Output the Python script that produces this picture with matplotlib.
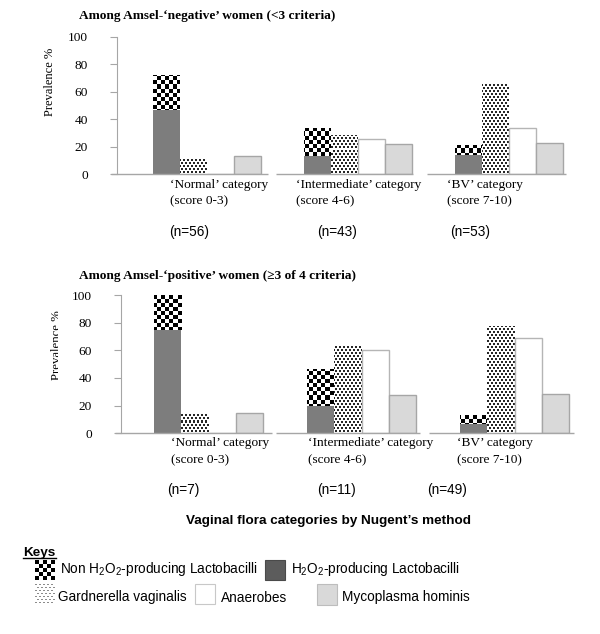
import numpy as np
import matplotlib
matplotlib.use('Agg')
import matplotlib.pyplot as plt
from matplotlib.patches import Rectangle
from matplotlib.transforms import Bbox, TransformedBbox

plt.rcParams['mathtext.default'] = 'regular'
SERIF = 'Liberation Serif'
SANS = 'Liberation Sans'

# ---------------- data ----------------
cat_line1 = ["\u2018Normal\u2019 category", "\u2018Intermediate\u2019 category", "\u2018BV\u2019 category"]
cat_line2 = ["(score 0-3)", "(score 4-6)", "(score 7-10)"]
series_names = ["Non H$_2$O$_2$-producing Lactobacilli", "H$_2$O$_2$-producing Lactobacilli",
                "Gardnerella vaginalis", "Anaerobes", "Mycoplasma hominis"]
yticks = [0, 20, 40, 60, 80, 100]

# Amsel-negative women (<3 criteria)
neg_h2o2 = [47, 13, 14.3]
neg_non_h2o2 = [25, 20.6, 6.8]
neg_gardnerella = [11.4, 28.4, 66.4]
neg_anaerobes = [0, 25.5, 33.7]
neg_mycoplasma = [13.6, 22.1, 23.0]
neg_n = [56, 43, 53]

# Amsel-positive women (>=3 of 4 criteria)
pos_h2o2 = [75, 20, 6.7]
pos_non_h2o2 = [25, 26.5, 6.3]
pos_gardnerella = [14.5, 63.6, 77.3]
pos_anaerobes = [0, 60, 69.2]
pos_mycoplasma = [14.5, 27.5, 28.4]
pos_n = [7, 11, 49]

titles = ["Among Amsel-\u2018negative\u2019 women (<3 criteria)",
          "Among Amsel-\u2018positive\u2019 women (\u22653 of 4 criteria)"]

# ---------------- figure ----------------
W, H = 600, 634
fig = plt.figure(figsize=(W / 100, H / 100), dpi=100)
fig.patch.set_facecolor('white')

C_H2O2 = '#7d7d7d'
C_MYCO = '#d9d9d9'
C_EDGE = '#a6a6a6'
C_AX = '#a6a6a6'


def checker_tex(h, w, cell=4):
    ii, jj = np.indices((h, w))
    return ((ii // cell + jj // cell) % 2).astype(float)


def stipple_tex(h, w, light=False):
    ii, jj = np.indices((h, w))
    arr = np.ones((h, w))
    if light:
        dots = ((ii % 3) < 1) & (((jj + 2 * ((ii // 3) % 2)) % 4) < 2)
        arr[dots] = 0.55
    else:
        dots = ((ii % 3) < 2) & (((jj + 2 * ((ii // 3) % 2)) % 4) < 2)
        arr[dots] = 0.15
    return arr


def add_texture(ax, patches, tex, extent):
    for p in patches:
        im = ax.imshow(tex, extent=extent, cmap='gray', vmin=0, vmax=1,
                       interpolation='nearest', aspect='auto', zorder=1.5)
        im.set_clip_path(p)


def panel(rect_px, xlim, h2o2, non, gard, anaer, myco, seg_px, bar_w_px, px_per_cat):
    l, t, r, b = rect_px
    ax = fig.add_axes([l / W, 1 - b / H, (r - l) / W, (b - t) / H])
    ax.set_xlim(xlim)
    ax.set_ylim(0, 100)
    x = np.arange(len(h2o2))
    w = bar_w_px / px_per_cat
    ax.bar(x, h2o2, w, align='edge', color=C_H2O2, edgecolor='none', zorder=1)
    nb = ax.bar(x, non, w, bottom=h2o2, align='edge', color='white', edgecolor='none', zorder=1)
    gb = ax.bar(x + w, gard, w, align='edge', color='white', edgecolor='none', zorder=1)
    ax.bar(x + 2 * w, anaer, w, align='edge', color='white', edgecolor='#b5b5b5', linewidth=1.0, zorder=2)
    ax.bar(x + 3 * w, myco, w, align='edge', color=C_MYCO, edgecolor=C_EDGE, linewidth=1.0, zorder=2)
    hp, wp = int(round(b - t)), int(round(r - l))
    ext = (xlim[0], xlim[1], 0, 100)
    add_texture(ax, nb, checker_tex(hp, wp), ext)
    add_texture(ax, gb, stipple_tex(hp, wp), ext)
    ax.set_xlim(xlim)
    ax.set_ylim(0, 100)
    for a_px, b_px in seg_px:
        xa = xlim[0] + (a_px - l) / px_per_cat
        xb = xlim[0] + (b_px - l) / px_per_cat
        ax.plot([xa, xb], [0, 0], color=C_AX, lw=1.0, clip_on=False, zorder=3,
                solid_capstyle='butt')
    for s in ['top', 'right', 'bottom']:
        ax.spines[s].set_visible(False)
    ax.spines['left'].set_color(C_AX)
    ax.set_xticks([])
    ax.set_yticks(yticks)
    ax.tick_params(axis='y', length=5, color=C_AX, pad=16, labelsize=9.6,
                   labelfontfamily=SERIF)
    ax.patch.set_alpha(0)
    return ax


# top panel: axis px 117..566, y 36.8..174.3 ; first group starts at 153 px, 151 px per category
ax1 = panel((117, 36.8, 566, 174.3), ((117 - 153) / 151, (566 - 153) / 151),
            neg_h2o2, neg_non_h2o2, neg_gardnerella, neg_anaerobes, neg_mycoplasma,
            [(111, 268), (276, 413), (427, 566)], 27, 151)
ax2 = panel((121, 295, 574, 433.3), ((121 - 154) / 153, (574 - 154) / 153),
            pos_h2o2, pos_non_h2o2, pos_gardnerella, pos_anaerobes, pos_mycoplasma,
            [(115, 272), (276, 420), (429, 574)], 27.3, 153)

# overlay for text in pixel coordinates
ov = fig.add_axes([0, 0, 1, 1], zorder=5)
ov.set_xlim(0, W)
ov.set_ylim(H, 0)
ov.axis('off')

# titles
ov.text(79, 18.5, titles[0], family=SERIF, weight='bold', fontsize=9.6, va='baseline', ha='left')
ov.text(79, 279.5, titles[1], family=SERIF, weight='bold', fontsize=9.6, va='baseline', ha='left')

# y labels
ov.text(53, 82, 'Prevalence %', family=SERIF, fontsize=9, rotation=90,
        rotation_mode='anchor', ha='center', va='baseline')
tl = ov.text(60.5, 345, 'Prevalence %', family=SERIF, fontsize=9.2, rotation=90,
             rotation_mode='anchor', ha='center', va='baseline')
tl.set_clip_on(True)
tl.set_clip_path(None)
tl.set_clip_box(TransformedBbox(Bbox.from_extents(0, 0, 58.3 / W, 1), fig.transFigure))

# category labels
for xs, y1, y2, ns_x, ny, ns in [
        ([169.5, 295.8, 447], 185.3, 201.7, [169.5, 317.6, 449.7], 231.7, neg_n),
        ([171.4, 308.5, 457.3], 443.3, 460, [167.6, 317.6, 426.7], 490, pos_n)]:
    for i in range(3):
        ov.text(xs[i], y1, cat_line1[i], family=SERIF, fontsize=9.6, va='center', ha='left')
        ov.text(xs[i], y2, cat_line2[i], family=SERIF, fontsize=9.6, va='center', ha='left')
        ov.text(ns_x[i], ny, f"(n={ns[i]})", family=SANS, fontsize=9.8, va='center', ha='left')

# x-axis title
ov.text(328, 520.7, "Vaginal flora categories by Nugent\u2019s method", family=SANS,
        weight='bold', fontsize=9.7, ha='center', va='center')

# keys
ov.text(23.3, 556, 'Keys', family=SANS, weight='bold', fontsize=9.7, ha='left', va='baseline')
ov.plot([23.3, 55.7], [558.3, 558.3], color='black', lw=1.0)

bs = 20
ov.imshow(checker_tex(5, 5, 1), extent=(35, 55, 580, 560), cmap='gray', vmin=0, vmax=1,
          interpolation='nearest', aspect='auto', zorder=2)
ov.add_patch(Rectangle((265, 560), bs, bs, facecolor='#5c5c5c', edgecolor='#4a4a4a', lw=0.8))
ov.imshow(stipple_tex(20, 20, light=True), extent=(35, 55, 604, 584), cmap='gray', vmin=0, vmax=1,
          interpolation='nearest', aspect='auto', zorder=2)
ov.add_patch(Rectangle((195, 584), bs, bs, facecolor='white', edgecolor='#c8c8c8', lw=0.8))
ov.add_patch(Rectangle((316.5, 584), bs + 0.5, bs + 0.5, facecolor=C_MYCO, edgecolor='#bdbdbd', lw=0.8))
ov.set_xlim(0, W)
ov.set_ylim(H, 0)

key_text = [(60, 573.3), (291, 573.3), (58, 601.5), (221, 601.5), (342.5, 601.5)]
for (tx, ty), name in zip(key_text, series_names):
    ov.text(tx, ty, name, family=SANS, fontsize=9.8, ha='left', va='baseline')

fig.savefig('out.png', dpi=100, facecolor='white')
